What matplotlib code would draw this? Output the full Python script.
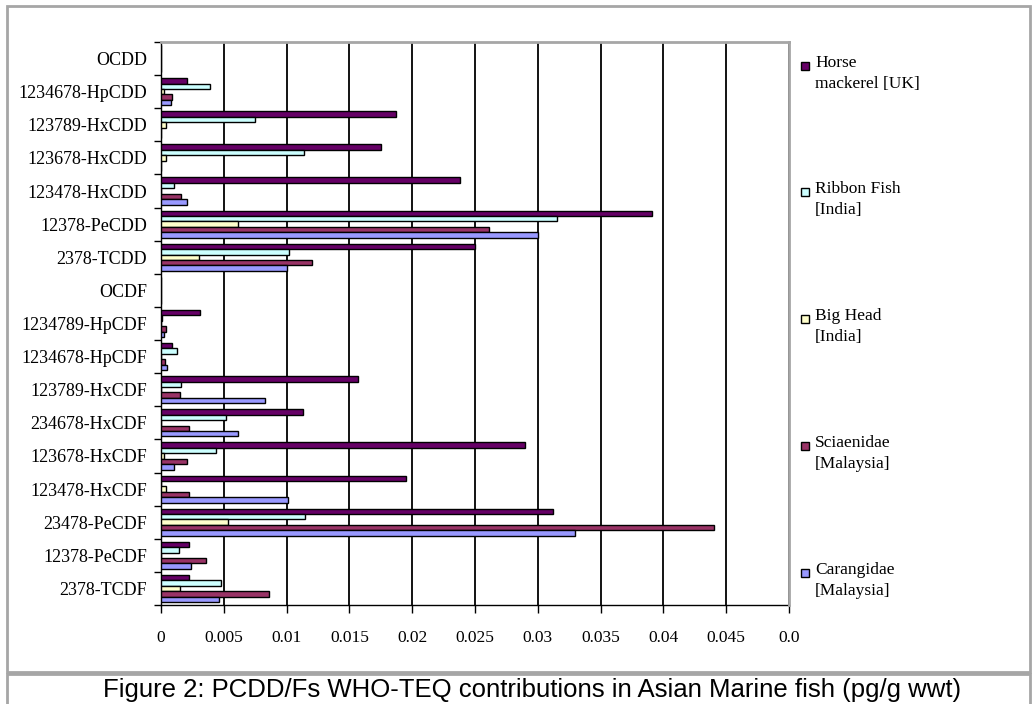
import numpy as np
import matplotlib.pyplot as plt
from matplotlib.patches import Rectangle

# congeners, listed bottom to top as they appear on the axis
congeners = ["2378-TCDF", "12378-PeCDF", "23478-PeCDF", "123478-HxCDF",
             "123678-HxCDF", "234678-HxCDF", "123789-HxCDF", "1234678-HpCDF",
             "1234789-HpCDF", "OCDF", "2378-TCDD", "12378-PeCDD",
             "123478-HxCDD", "123678-HxCDD", "123789-HxCDD", "1234678-HpCDD",
             "OCDD"]

# WHO-TEQ contributions (pg/g wwt) per species
horse_mackerel = [0.0022, 0.0022, 0.0312, 0.0195, 0.0290, 0.0113, 0.0157, 0.0009,
                  0.0031, 0.0, 0.0250, 0.0391, 0.0238, 0.0175, 0.0187, 0.0021, 0.0]
ribbon_fish = [0.0048, 0.0014, 0.0115, 0.0, 0.0044, 0.0052, 0.0016, 0.0013,
               0.0001, 0.0, 0.0102, 0.0315, 0.0010, 0.0114, 0.0075, 0.0039, 0.0]
big_head = [0.0015, 0.0, 0.0053, 0.0004, 0.0002, 0.0, 0.0, 0.0,
            0.0, 0.0, 0.0030, 0.0061, 0.0, 0.0004, 0.0004, 0.0002, 0.0]
sciaenidae = [0.0086, 0.0036, 0.0440, 0.0022, 0.0021, 0.0022, 0.0015, 0.0003,
              0.0004, 0.0, 0.0120, 0.0261, 0.0016, 0.0, 0.0, 0.0009, 0.0]
carangidae = [0.0046, 0.0024, 0.0330, 0.0101, 0.0010, 0.0061, 0.0083, 0.0005,
              0.0002, 0.0, 0.0100, 0.0300, 0.0021, 0.0, 0.0, 0.0008, 0.0]

series_labels = ["Horse\nmackerel [UK]", "Ribbon Fish\n[India]", "Big Head\n[India]",
                 "Sciaenidae\n[Malaysia]", "Carangidae\n[Malaysia]"]
series_colors = ["#660066", "#CCFFFF", "#FFFFCC", "#993366", "#9999FF"]
series_values = [horse_mackerel, ribbon_fish, big_head, sciaenidae, carangidae]

x_ticks = np.arange(0, 0.0501, 0.005)
x_ticklabels = ["0", "0.005", "0.01", "0.015", "0.02", "0.025", "0.03",
                "0.035", "0.04", "0.045", "0.0"]

W, H = 1034, 704
fig = plt.figure(figsize=(W / 100, H / 100), dpi=100)
ax = fig.add_axes([161 / W, 1 - 605 / H, (789 - 161) / W, (605 - 42) / H])

serif = "Liberation Serif"
y = np.arange(len(congeners))
bar_h = 0.164
for j, (vals, color) in enumerate(zip(series_values, series_colors)):
    ax.barh(y + (2 - j) * bar_h, vals, height=bar_h, color=color,
            edgecolor="black", linewidth=1.0, zorder=3)

ax.set_xlim(0, 0.05)
ax.set_ylim(-0.5, len(congeners) - 0.5)

ax.set_xticks(x_ticks)
ax.set_xticklabels(x_ticklabels, fontfamily=serif, fontsize=12.5)
ax.tick_params(axis="x", direction="out", length=6, width=1, pad=12)

ax.set_yticks(y)
ax.set_yticklabels(congeners, fontfamily=serif, fontsize=13)
ax.tick_params(axis="y", which="major", length=0, pad=10)
ax.set_yticks(np.arange(-0.5, len(congeners)), minor=True)
ax.tick_params(axis="y", which="minor", direction="out", length=5, width=1)

ax.set_axisbelow(True)
ax.grid(axis="x", color="black", linewidth=1.3)
for side in ["left", "bottom"]:
    ax.spines[side].set_color("black")
    ax.spines[side].set_linewidth(1)
for side in ["top", "right"]:
    ax.spines[side].set_color("#a6a6a6")
    ax.spines[side].set_linewidth(2)
    ax.spines[side].set_zorder(4)

# legend, one entry every ~127 px down the right side
legend_y = [66, 192, 319, 446, 573]
for label, color, ly in zip(series_labels, series_colors, legend_y):
    fig.patches.append(Rectangle((801 / W, 1 - (ly + 4) / H), 8 / W, 8 / H,
                                 transform=fig.transFigure, facecolor=color,
                                 edgecolor="black", linewidth=1))
    fig.text(815 / W, 1 - (ly - 11) / H, label, fontfamily=serif, fontsize=12.5,
             va="top", ha="left", linespacing=1.45)

# chart frame and caption box
fig.patches.append(Rectangle((7 / W, 1 - 672 / H), (1030 - 7) / W, (672 - 6) / H,
                             transform=fig.transFigure, fill=False,
                             edgecolor="#a6a6a6", linewidth=2))
fig.patches.append(Rectangle((7 / W, -0.05), (1030 - 7) / W, 0.05 + (704 - 674) / H,
                             transform=fig.transFigure, fill=False,
                             edgecolor="#a6a6a6", linewidth=2))
fig.text(532 / W, 1 - 690 / H,
         "Figure 2: PCDD/Fs WHO-TEQ contributions in Asian Marine fish (pg/g wwt)",
         fontfamily="Liberation Sans", fontsize=18.5, ha="center", va="center")

fig.savefig("out.png", dpi=100)
